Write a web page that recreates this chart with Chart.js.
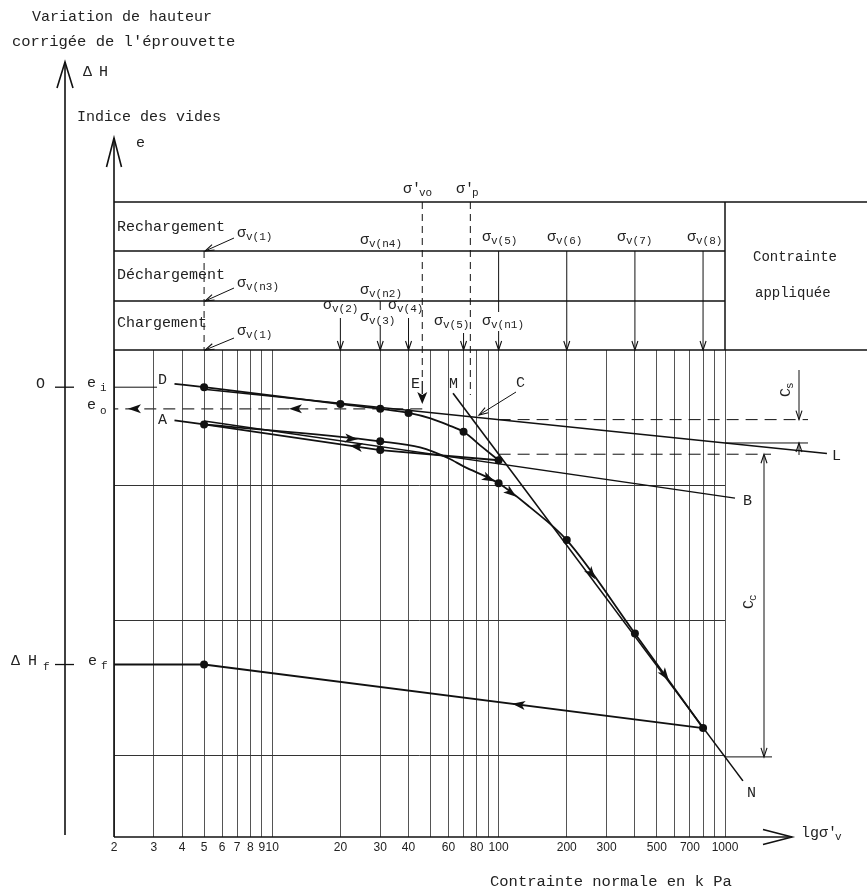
<!DOCTYPE html>
<html lang="fr">
<head>
<meta charset="utf-8">
<title>Courbe de compressibilité oedométrique</title>
<script src="https://cdn.jsdelivr.net/npm/chart.js@4.4.1/dist/chart.umd.min.js"></script>
<style>
  html, body { margin: 0; padding: 0; background: #fff; }
  #wrap { width: 867px; height: 893px; }
</style>
</head>
<body>
<div id="wrap"><canvas id="chart" width="867" height="893"></canvas></div>
<script>
// stress in kPa (log axis), void ratio e (linear axis)
const gridStress = [2, 3, 4, 5, 6, 7, 8, 9, 10, 20, 30, 40, 50, 60, 70, 80, 90, 100, 200, 300, 400, 500, 600, 700, 800, 900, 1000];
const labelledStress = [2, 3, 4, 5, 6, 7, 8, 9, 10, 20, 30, 40, 60, 80, 100, 200, 300, 500, 700, 1000];
const eLevels = [0.4, 0.6, 0.8];

// chargement (courbe D)
const loadX = [3.7, 5, 20, 30, 40, 50, 60, 70, 85, 100];
const loadE = [0.950, 0.945, 0.920, 0.913, 0.907, 0.899, 0.889, 0.879, 0.856, 0.837];
const loadDots = [5, 20, 30, 40, 70, 100];

// déchargement 100 -> 5 (vers A)
const unloadX = [100, 30, 5, 3.7];
const unloadE = [0.837, 0.852, 0.890, 0.896];
const unloadDots = [30, 5];

// rechargement 5 -> 800
const reloadX = [5, 30, 45, 60, 70, 100, 137, 200, 400, 800];
const reloadE = [0.890, 0.865, 0.856, 0.840, 0.828, 0.803, 0.768, 0.719, 0.581, 0.441];
const reloadDots = [30, 100, 200, 400, 800];

// déchargement final 800 -> 5, puis e_f
const finalX = [800, 5, 2];
const finalE = [0.441, 0.535, 0.535];
const finalDots = [5];

// droites de construction
const lineLX = [5, 2820];
const lineLE = [0.942, 0.847];
const lineBX = [5, 1107];
const lineBE = [0.895, 0.781];
const lineMNX = [62.9, 1200];
const lineMNE = [0.936, 0.363];
const eoX = [46, 2];
const eoE = [0.913, 0.913];

const sigmaVo = 46;
const sigmaP = 75;
const eI = 0.945;
const eF = 0.535;

const FONT = '"Liberation Mono", "DejaVu Sans Mono", monospace';
const INK = "#111";
const TXT = "#222";

const toPts = (xs, es) => xs.map((x, i) => ({ x: x, y: es[i] }));

function curve(name, xs, es, dots, extra) {
  return Object.assign({
    label: name,
    data: toPts(xs, es),
    showLine: true,
    borderColor: INK,
    backgroundColor: INK,
    borderWidth: 1.8,
    pointRadius: (c) => (c.raw && dots.includes(c.raw.x) ? 4 : 0),
    pointHoverRadius: 0,
    pointBorderWidth: 0,
    tension: 0,
    clip: false
  }, extra || {});
}

function seg(ctx, x1, y1, x2, y2, w, dash) {
  ctx.beginPath();
  ctx.lineWidth = w || 1;
  ctx.setLineDash(dash || []);
  ctx.moveTo(x1, y1);
  ctx.lineTo(x2, y2);
  ctx.stroke();
  ctx.setLineDash([]);
}

function openHead(ctx, tx, ty, ang, len, half, w) {
  const c = Math.cos(ang), s = Math.sin(ang);
  ctx.beginPath();
  ctx.lineWidth = w || 1.1;
  ctx.moveTo(tx - len * c - half * s, ty - len * s + half * c);
  ctx.lineTo(tx, ty);
  ctx.lineTo(tx - len * c + half * s, ty - len * s - half * c);
  ctx.stroke();
}

function fillHead(ctx, tx, ty, ang, len, half) {
  const c = Math.cos(ang), s = Math.sin(ang);
  ctx.beginPath();
  ctx.moveTo(tx, ty);
  ctx.lineTo(tx - len * c - half * s, ty - len * s + half * c);
  ctx.lineTo(tx - len * 0.75 * c, ty - len * 0.75 * s);
  ctx.lineTo(tx - len * c + half * s, ty - len * s - half * c);
  ctx.closePath();
  ctx.fill();
}

function slant(ctx, x0, y0, x1, y1) {
  seg(ctx, x0, y0, x1, y1, 1);
  openHead(ctx, x1, y1, Math.atan2(y1 - y0, x1 - x0), 9, 3);
}

function txt(ctx, s, x, y, size) {
  ctx.font = size + "px " + FONT;
  ctx.fillText(s, x, y);
  return ctx.measureText(s).width;
}

function sig(ctx, main, sub, x, y, gap) {
  const w = txt(ctx, main, x, y, 15);
  txt(ctx, sub, x + w + (gap || 0), y + 4, 11);
}

// position on a drawn dataset at a given stress (pixel space)
function along(chart, name, at) {
  const idx = chart.data.datasets.findIndex((d) => d.label === name);
  const pts = chart.getDatasetMeta(idx).data;
  const tx = chart.scales.x.getPixelForValue(at);
  for (let i = 0; i < pts.length - 1; i++) {
    const a = pts[i], b = pts[i + 1];
    if (a.x !== b.x && (tx - a.x) * (tx - b.x) <= 0) {
      const t = (tx - a.x) / (b.x - a.x);
      return { x: tx, y: a.y + t * (b.y - a.y), ang: Math.atan2(b.y - a.y, b.x - a.x) };
    }
  }
  return null;
}

const curveArrows = [
  { name: "reload", at: 22.5 },
  { name: "reload", at: 91 },
  { name: "reload", at: 114 },
  { name: "reload", at: 258 },
  { name: "reload", at: 545 },
  { name: "unload", at: 23.3 },
  { name: "final", at: 122 },
  { name: "eo", at: 2.45 },
  { name: "eo", at: 12.6 }
];

const sketchPlugin = {
  id: "sketch",
  afterDraw(chart) {
    const ctx = chart.ctx;
    const sx = chart.scales.x, sy = chart.scales.y;
    const px = (v) => sx.getPixelForValue(v);
    const py = (v) => sy.getPixelForValue(v);
    const { left, right, top, bottom } = chart.chartArea;
    const hTop = 202, hRow1 = 251, hRow2 = 301;

    ctx.save();
    ctx.strokeStyle = INK;
    ctx.fillStyle = INK;
    ctx.textBaseline = "middle";
    ctx.textAlign = "left";

    // axes
    seg(ctx, 65, 62, 65, 835, 1.6);
    openHead(ctx, 65, 62, -Math.PI / 2, 26, 8, 1.6);
    seg(ctx, left, 138, left, bottom, 1.6);
    openHead(ctx, left, 138, -Math.PI / 2, 29, 7.5, 1.6);
    seg(ctx, left, bottom, 792, bottom, 1.6);
    openHead(ctx, 792, bottom, 0, 29, 7.5, 1.6);

    // header table
    seg(ctx, left, hTop, 867, hTop, 1.5);
    seg(ctx, left, hRow1, right, hRow1, 1.5);
    seg(ctx, left, hRow2, right, hRow2, 1.5);
    seg(ctx, left, top, 867, top, 1.5);
    seg(ctx, right, hTop, right, top, 1.5);

    // dashed references
    seg(ctx, px(5), hRow1, px(5), top, 1, [7, 5]);
    seg(ctx, px(sigmaVo), hTop, px(sigmaVo), 381, 1, [7, 5]);
    seg(ctx, px(sigmaP), hTop, px(sigmaP), 395, 1, [7, 5]);

    // E arrow
    seg(ctx, px(sigmaVo), 381, px(sigmaVo), 394, 1.2);
    fillHead(ctx, px(sigmaVo), 404, Math.PI / 2, 12, 5);

    // Rechargement row
    slant(ctx, 234, 238, px(5) + 1, hRow1);
    [100, 200, 400, 800].forEach((v) => {
      if (v === 100) {
        seg(ctx, px(v), hRow1, px(v), 312, 1);
        seg(ctx, px(v), 331, px(v), top, 1);
      } else {
        seg(ctx, px(v), hRow1, px(v), top, 1);
      }
      openHead(ctx, px(v), top, Math.PI / 2, 9, 3);
    });

    // Déchargement row
    slant(ctx, 234, 288, px(5) + 1, hRow2);
    seg(ctx, px(30), hRow2, px(30), 310, 1);

    // Chargement row
    slant(ctx, 234, 338, px(5) + 1, top);
    [[20, 318], [30, 325], [40, 318], [70, 333]].forEach(([v, y0]) => {
      seg(ctx, px(v), y0, px(v), top, 1);
      openHead(ctx, px(v), top, Math.PI / 2, 9, 3);
    });

    // header texts
    ctx.fillStyle = TXT;
    txt(ctx, "Rechargement", 117, 227, 15);
    txt(ctx, "Déchargement", 117, 275, 15);
    txt(ctx, "Chargement", 117, 323, 15);
    sig(ctx, "σ", "v(1)", 237, 233);
    sig(ctx, "σ", "v(n4)", 360, 240);
    sig(ctx, "σ", "v(5)", 482, 237);
    sig(ctx, "σ", "v(6)", 547, 237);
    sig(ctx, "σ", "v(7)", 617, 237);
    sig(ctx, "σ", "v(8)", 687, 237);
    sig(ctx, "σ", "v(n3)", 237, 283);
    sig(ctx, "σ", "v(n2)", 360, 290);
    sig(ctx, "σ", "v(2)", 323, 305);
    sig(ctx, "σ", "v(3)", 360, 317);
    sig(ctx, "σ", "v(4)", 388, 305);
    sig(ctx, "σ", "v(1)", 237, 331);
    sig(ctx, "σ", "v(5)", 434, 321);
    sig(ctx, "σ", "v(n1)", 482, 321);
    sig(ctx, "σ'", "vo", 403, 189, -2);
    sig(ctx, "σ'", "p", 456, 189, -2);
    txt(ctx, "Contrainte", 753, 257, 14);
    txt(ctx, "appliquée", 755, 293, 14);

    // axis titles
    txt(ctx, "Variation de hauteur", 32, 17, 15);
    txt(ctx, "corrigée de l'éprouvette", 12, 42, 15.5);
    txt(ctx, "Δ", 83, 72, 15);
    txt(ctx, "H", 99, 72, 15);
    txt(ctx, "Indice des vides", 77, 117, 15);
    txt(ctx, "e", 136, 143, 15);
    sig(ctx, "lgσ'", "v", 801, 833, -2);
    txt(ctx, "Contrainte normale en k Pa", 490, 882, 15.5);

    // left marks
    ctx.strokeStyle = INK;
    seg(ctx, 55, py(eI), 74, py(eI), 1.3);
    seg(ctx, 55, py(eF), 74, py(eF), 1.3);
    seg(ctx, left, py(eI), 157, py(eI), 1);
    txt(ctx, "O", 36, py(eI) - 3, 15);
    txt(ctx, "e", 87, py(eI) - 4, 15);
    txt(ctx, "i", 100, py(eI) + 1, 11);
    txt(ctx, "e", 87, 405, 15);
    txt(ctx, "o", 100, 411, 11);
    txt(ctx, "Δ", 11, py(eF) - 3, 15);
    txt(ctx, "H", 28, py(eF) - 3, 15);
    txt(ctx, "f", 43, py(eF) + 3, 11);
    txt(ctx, "e", 88, py(eF) - 3, 15);
    txt(ctx, "f", 101, py(eF) + 2, 11);

    // curve letters
    txt(ctx, "D", 158, 380, 15);
    txt(ctx, "A", 158, 420, 15);
    txt(ctx, "E", 411, 384, 15);
    txt(ctx, "M", 449, 384, 15);
    txt(ctx, "C", 516, 383, 15);
    txt(ctx, "L", 832, 456, 15);
    txt(ctx, "B", 743, 501, 15);
    txt(ctx, "N", 747, 793, 15);

    // C pointer
    ctx.strokeStyle = INK;
    seg(ctx, 516, 392, 479, 415, 1);
    openHead(ctx, 479, 415, Math.atan2(23, -37), 9, 3);

    // arrows along curves
    ctx.fillStyle = INK;
    curveArrows.forEach((a) => {
      const p = along(chart, a.name, a.at);
      if (p) fillHead(ctx, p.x + 6 * Math.cos(p.ang), p.y + 6 * Math.sin(p.ang), p.ang, 13, 4.5);
    });

    // Cs construction
    const l100 = along(chart, "L", 100), l1000 = along(chart, "L", 1000);
    const m100 = along(chart, "MN", 100), m1000 = along(chart, "MN", 1000);
    const csX = 799, ccX = 764;
    seg(ctx, px(100), l100.y, 808, l100.y, 1, [12, 7]);
    seg(ctx, right, l1000.y, 808, l1000.y, 1);
    seg(ctx, csX, 370, csX, l100.y, 1);
    openHead(ctx, csX, l100.y, Math.PI / 2, 9, 3);
    seg(ctx, csX, l1000.y, csX, l1000.y + 12, 1);
    openHead(ctx, csX, l1000.y, -Math.PI / 2, 9, 3);

    // Cc construction
    seg(ctx, px(100), m100.y, 771, m100.y, 1, [12, 7]);
    seg(ctx, right, m1000.y, 772, m1000.y, 1);
    seg(ctx, ccX, m100.y, ccX, m1000.y, 1);
    openHead(ctx, ccX, m100.y, -Math.PI / 2, 9, 3);
    openHead(ctx, ccX, m1000.y, Math.PI / 2, 9, 3);

    ctx.fillStyle = TXT;
    ctx.save();
    ctx.translate(786, 397);
    ctx.rotate(-Math.PI / 2);
    sig(ctx, "C", "s", 0, 0, -1);
    ctx.restore();
    ctx.save();
    ctx.translate(749, 609);
    ctx.rotate(-Math.PI / 2);
    sig(ctx, "C", "c", 0, 0, -1);
    ctx.restore();

    ctx.restore();
  }
};

new Chart(document.getElementById("chart"), {
  type: "scatter",
  data: {
    datasets: [
      curve("load", loadX, loadE, loadDots, { cubicInterpolationMode: "monotone" }),
      curve("unload", unloadX, unloadE, unloadDots),
      curve("reload", reloadX, reloadE, reloadDots, { cubicInterpolationMode: "monotone" }),
      curve("final", finalX, finalE, finalDots),
      curve("L", lineLX, lineLE, [], { borderWidth: 1.5 }),
      curve("B", lineBX, lineBE, [], { borderWidth: 1.5 }),
      curve("MN", lineMNX, lineMNE, [], { borderWidth: 1.6 }),
      curve("eo", eoX, eoE, [], { borderWidth: 1.1, borderDash: [12, 7], borderColor: "#333" })
    ]
  },
  options: {
    responsive: false,
    animation: false,
    devicePixelRatio: 1,
    events: [],
    layout: { padding: { left: 114, right: 142, top: 350, bottom: 35.6 } },
    plugins: { legend: { display: false }, tooltip: { enabled: false } },
    scales: {
      x: {
        type: "logarithmic",
        min: 2,
        max: 1000,
        afterBuildTicks: (s) => { s.ticks = gridStress.map((v) => ({ value: v })); },
        ticks: {
          autoSkip: false,
          maxRotation: 0,
          padding: 3,
          color: TXT,
          font: { family: '"Liberation Sans", Arial, sans-serif', size: 12 },
          callback: (v) => (labelledStress.includes(v) ? String(v) : "")
        },
        grid: { color: "#555", lineWidth: 1, drawTicks: false },
        border: { display: false }
      },
      y: {
        min: 0.28,
        max: 1.0,
        afterBuildTicks: (s) => { s.ticks = eLevels.map((v) => ({ value: v })); },
        ticks: { display: false },
        grid: { color: "#333", lineWidth: 1, drawTicks: false },
        border: { display: false }
      }
    }
  },
  plugins: [sketchPlugin]
});
</script>
</body>
</html>
